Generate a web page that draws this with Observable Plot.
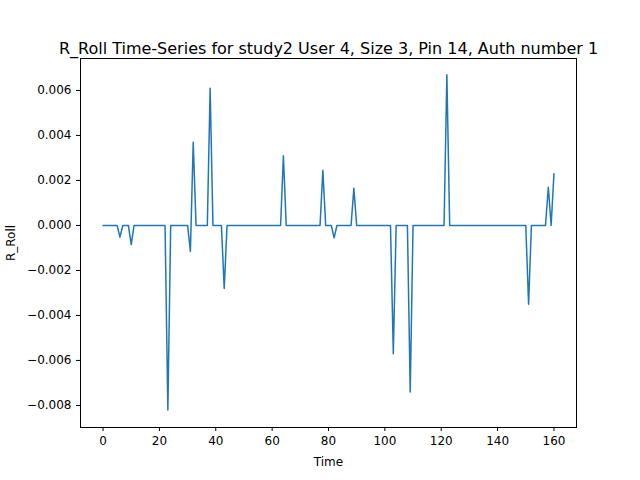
<!DOCTYPE html>
<html>
<head>
<meta charset="utf-8">
<script src="https://cdn.jsdelivr.net/npm/d3@7"></script>
<script src="https://cdn.jsdelivr.net/npm/@observablehq/plot@0.6"></script>
<style>body{margin:0;background:#fff}</style>
</head>
<body>
<div id="chart"></div>
<script>
// nonzero samples, everything else is 0
const spikeTimes = [6, 10, 23, 31, 32, 38, 43, 64, 78, 82, 89, 103, 109, 122, 151, 158, 160];
const spikeValues = [-0.00052, -0.00085, -0.0082, -0.00115, 0.0037, 0.0061, -0.0028, 0.0031, 0.00245, -0.00055, 0.00165, -0.0057, -0.0074, 0.0067, -0.0035, 0.0017, 0.0023];
const nSamples = 161;

const data = d3.range(nSamples).map(t => {
  const i = spikeTimes.indexOf(t);
  return {t, v: i >= 0 ? spikeValues[i] : 0};
});

let chart = Plot.plot({
  width: 640,
  height: 480,
  marginLeft: 80,
  marginRight: 64,
  marginTop: 58,
  marginBottom: 53,
  style: {fontFamily: "DejaVu Sans", fontSize: "12px", color: "#000", background: "#fff"},
  x: {domain: [-8, 168], ticks: [0, 20, 40, 60, 80, 100, 120, 140, 160], label: "Time", labelArrow: "none", labelAnchor: "center", labelOffset: 38, tickSize: 4},
  y: {domain: [-0.00898, 0.00742], ticks: d3.range(-0.008, 0.0061, 0.002), tickFormat: d3.format(".3f"), label: "R_Roll", labelArrow: "none", labelAnchor: "center", labelOffset: 74, tickSize: 4},
  marks: [
    Plot.frame({stroke: "#000"}),
    Plot.line(data, {x: "t", y: "v", stroke: "#1f77b4", strokeWidth: 1.5}),
    Plot.text(["R_Roll Time-Series for study2 User 4, Size 3, Pin 14, Auth number 1"], {frameAnchor: "top", dy: -16, fontSize: 16, fill: "#000"})
  ]
});
d3.select('#chart').append(() => chart);
</script>
</body>
</html>
